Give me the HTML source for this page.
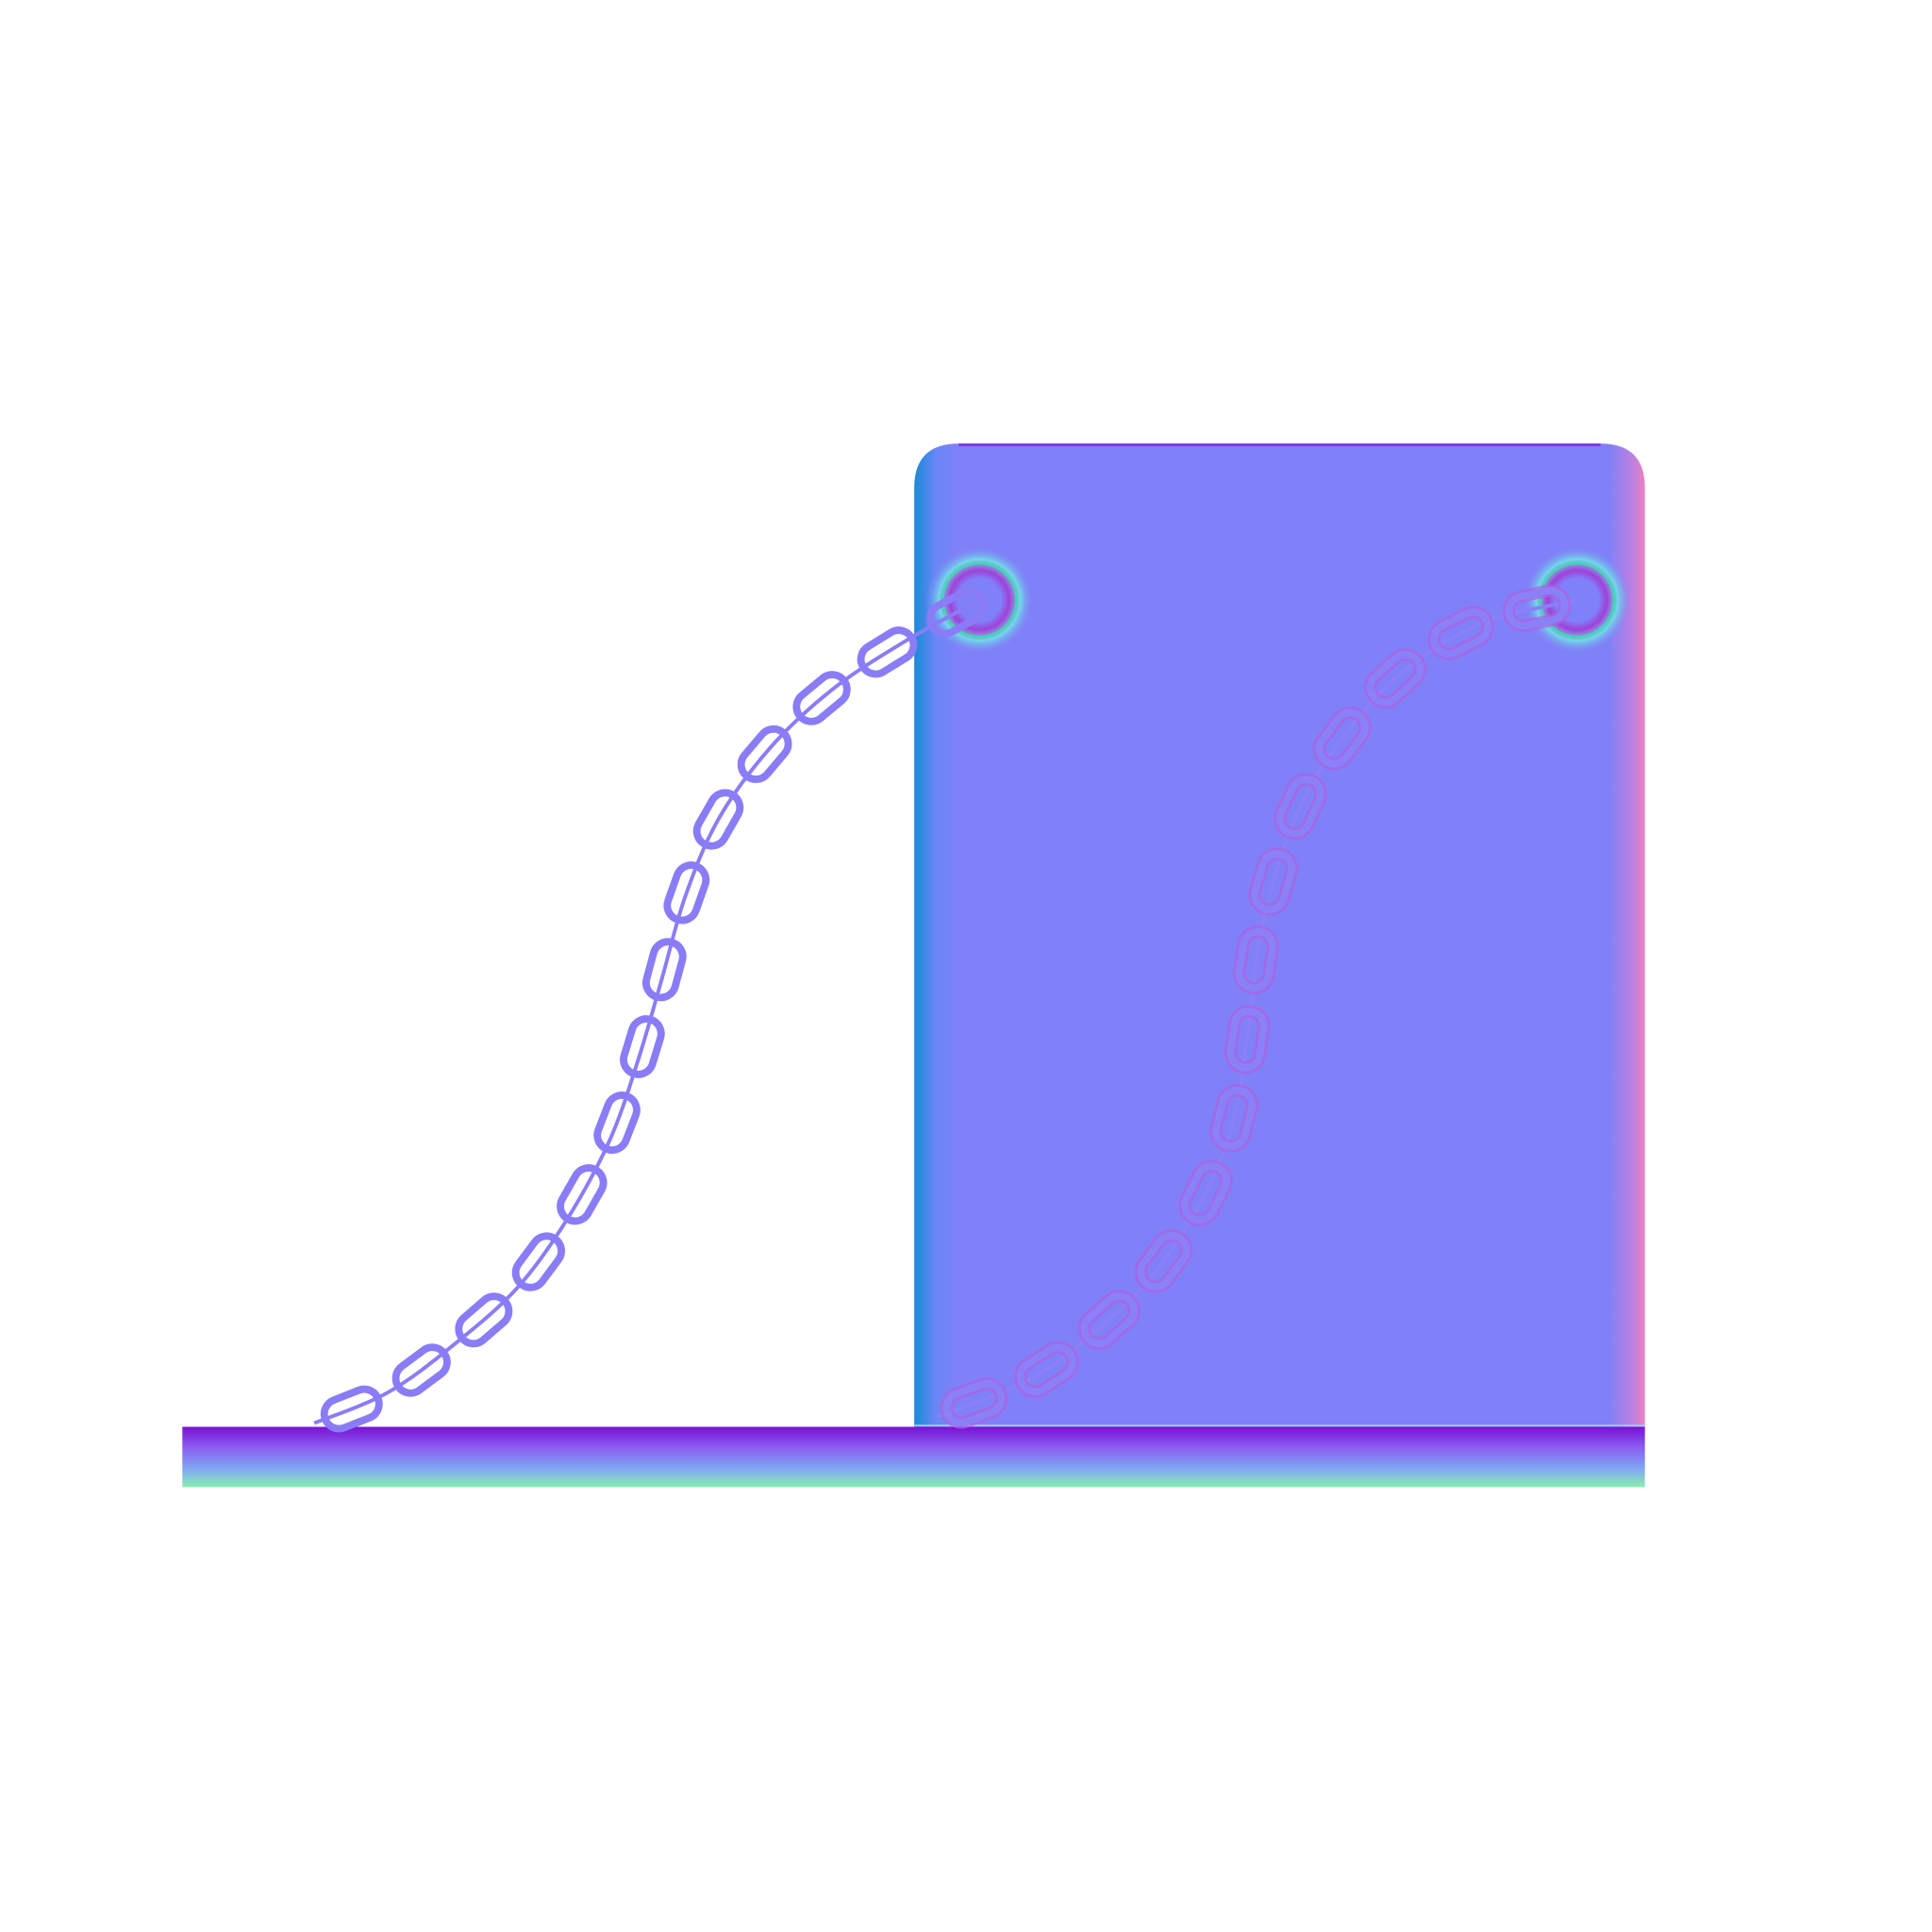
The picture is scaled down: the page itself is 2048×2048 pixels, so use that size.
<!DOCTYPE html>
<html><head><meta charset="utf-8"><style>html,body{margin:0;padding:0;background:#fff}svg{display:block}</style></head>
<body>
<svg id="scene" width="2048" height="2048" viewBox="0 0 1568 1568" xmlns="http://www.w3.org/2000/svg">
<defs>
<linearGradient id="baseG" x1="0" y1="0" x2="0" y2="1">
<stop offset="0" stop-color="#7a10d6"/><stop offset="0.35" stop-color="#8a60f0"/><stop offset="0.7" stop-color="#80a8f4"/><stop offset="1" stop-color="#88f0b0"/></linearGradient>
<linearGradient id="panelG" x1="0" y1="0" x2="1" y2="0">
<stop offset="0" stop-color="#1a8ad8"/><stop offset="0.03" stop-color="#6a86f6"/><stop offset="0.06" stop-color="#8080f8"/><stop offset="0.95" stop-color="#8080f8"/><stop offset="0.985" stop-color="#c080e0"/><stop offset="1" stop-color="#f080c0"/></linearGradient>
<radialGradient id="ringG"><stop offset="0.4" stop-color="#8080f8"/><stop offset="0.55" stop-color="#a040d8"/><stop offset="0.75" stop-color="#70d8e8"/><stop offset="1" stop-color="#8080f8" stop-opacity="0"/></radialGradient>
</defs>
<path d="M742,1158 V396 Q742,360 778,360 H1299 Q1335,360 1335,396 V1158 Z" fill="url(#panelG)"/>
<rect x="778" y="360" width="521" height="2" fill="#7a30e0"/>
<rect x="148" y="1158" width="1187" height="49" fill="url(#baseG)"/>
<line x1="742" y1="1157" x2="1335" y2="1157" stroke="#9ad0ff" stroke-width="1.5"/>
<g id="rings"></g>
<g id="chains"></g>
</svg>
<script>
const leftX=[255,315,370,420,460,495,518,537,556,583,625,675,732,795];
const leftY=[1155,1130,1090,1045,990,925,860,795,728,665,607,560,522,487];
const rightX=[760,835,890,937,975,1000,1012,1020,1035,1060,1098,1145,1205,1280];
const rightY=[1150,1120,1080,1033,975,913,845,775,710,645,588,540,505,487];
const ringX=[795,1280];
const ringY=[487,487];
const NS="http://www.w3.org/2000/svg";
const rings=document.getElementById('rings');
ringX.forEach((x,i)=>{
  const g=document.createElementNS(NS,'circle');
  g.setAttribute('cx',x);g.setAttribute('cy',ringY[i]);g.setAttribute('r',44);g.setAttribute('fill','url(#ringG)');
  
  
  rings.appendChild(g);
  const c=document.createElementNS(NS,'circle');
  c.setAttribute('cx',x);c.setAttribute('cy',ringY[i]);c.setAttribute('r',30);c.setAttribute('fill','none');c.setAttribute('stroke','#40d8b0');c.setAttribute('stroke-width','2');
  
  
  rings.appendChild(c);
});
function catmull(xs,ys){let d=`M${xs[0]},${ys[0]}`;for(let i=0;i<xs.length-1;i++){const p0=[xs[Math.max(i-1,0)],ys[Math.max(i-1,0)]],p1=[xs[i],ys[i]],p2=[xs[i+1],ys[i+1]],p3=[xs[Math.min(i+2,xs.length-1)],ys[Math.min(i+2,xs.length-1)]];d+=` C${p1[0]+(p2[0]-p0[0])/6},${p1[1]+(p2[1]-p0[1])/6} ${p2[0]-(p3[0]-p1[0])/6},${p2[1]-(p3[1]-p1[1])/6} ${p2[0]},${p2[1]}`;}return d;}
const chains=document.getElementById('chains');
function chain(xs,ys,color,outline,name){
  const p=document.createElementNS(NS,'path');
  p.setAttribute('d',catmull(xs,ys));p.setAttribute('fill','none');p.setAttribute('stroke',color);p.setAttribute('stroke-width','3');
  
  
  chains.appendChild(p);
  const L=p.getTotalLength();const step=65;
  for(let s=step/2;s<L-10;s+=step){
    const a=p.getPointAtLength(s),b=p.getPointAtLength(Math.min(s+1,L));
    const ang=Math.atan2(b.y-a.y,b.x-a.x)*180/Math.PI;
    if(outline){
      const h=document.createElementNS(NS,'rect');
      h.setAttribute('x',-23);h.setAttribute('y',-12);h.setAttribute('width',46);h.setAttribute('height',24);h.setAttribute('rx',12);
      h.setAttribute('fill','none');h.setAttribute('stroke',outline);h.setAttribute('stroke-width','10');h.setAttribute('opacity','0.7');
      h.setAttribute('transform',`translate(${a.x},${a.y}) rotate(${ang})`);
      
      
      chains.appendChild(h);
    }
    const r=document.createElementNS(NS,'rect');
    r.setAttribute('x',-23);r.setAttribute('y',-12);r.setAttribute('width',46);r.setAttribute('height',24);r.setAttribute('rx',12);
    r.setAttribute('fill','none');r.setAttribute('stroke',color);r.setAttribute('stroke-width','6');
    r.setAttribute('transform',`translate(${a.x},${a.y}) rotate(${ang})`);
    
    
    chains.appendChild(r);
  }
}
chain(leftX,leftY,'#8a7cf6',null,'left-chain');
chain(rightX,rightY,'#8a80f8','#b060e0','right-chain');
</script>
</body></html>
